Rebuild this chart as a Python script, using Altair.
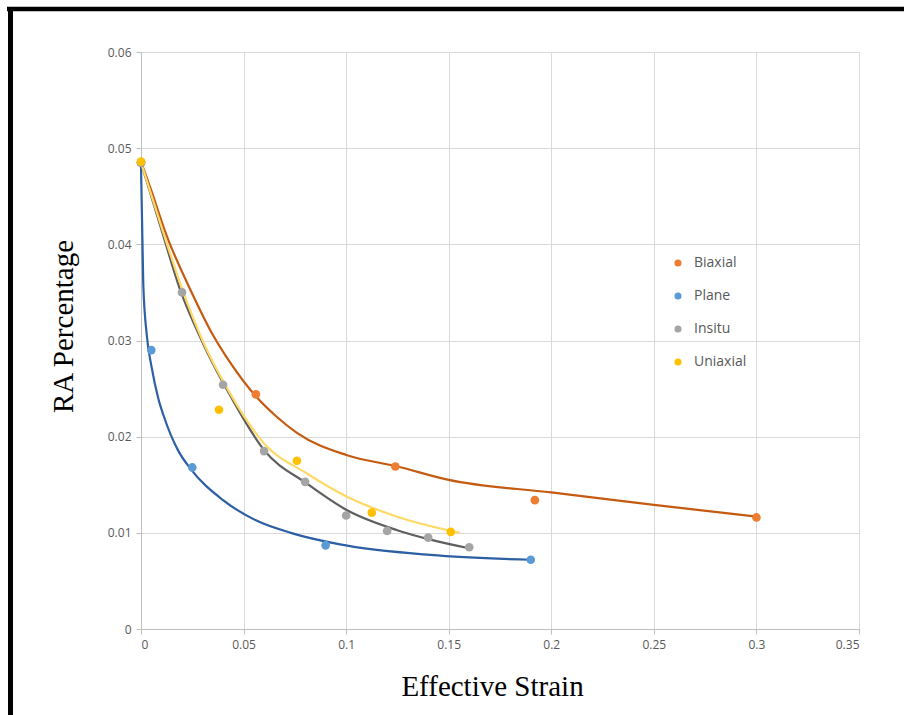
import altair as alt
import pandas as pd

# ---------------- data ----------------
series_names = ["Biaxial", "Plane", "Insitu", "Uniaxial"]
point_colors = ["#ED7D31", "#5B9BD5", "#A5A5A5", "#FFC000"]
line_colors = ["#C55A11", "#2C5FA3", "#5F5F5F", "#FFD966"]

# measured points
biaxial_x = [0.0, 0.056, 0.124, 0.192, 0.300]
biaxial_y = [0.0485, 0.0244, 0.0169, 0.0134, 0.0116]
plane_x = [0.0, 0.005, 0.025, 0.090, 0.190]
plane_y = [0.0485, 0.0290, 0.0168, 0.0087, 0.0072]
insitu_x = [0.0, 0.020, 0.040, 0.060, 0.080, 0.100, 0.120, 0.140, 0.160]
insitu_y = [0.0485, 0.0350, 0.0254, 0.0185, 0.0153, 0.0118, 0.0102, 0.0095, 0.0085]
uniaxial_x = [0.0, 0.038, 0.076, 0.1125, 0.151]
uniaxial_y = [0.0486, 0.0228, 0.0175, 0.0121, 0.0101]

# fitted trend curves
biaxial_fit_x = [0.0, 0.005, 0.012, 0.0247, 0.035, 0.0435, 0.056, 0.066, 0.076, 0.100, 0.125, 0.150, 0.200, 0.250, 0.300]
biaxial_fit_y = [0.0486, 0.0456, 0.0412, 0.0350, 0.0306, 0.0277, 0.0242, 0.0221, 0.0204, 0.0181, 0.0169, 0.0155, 0.0142, 0.0129, 0.0117]
plane_fit_x = [0.0, 0.0011, 0.0028, 0.0052, 0.0084, 0.011, 0.018, 0.024, 0.040, 0.056, 0.073, 0.097, 0.141, 0.190]
plane_fit_y = [0.0482, 0.0359, 0.0306, 0.0272, 0.0240, 0.0222, 0.0186, 0.0167, 0.0134, 0.0113, 0.0100, 0.0088, 0.0077, 0.0072]
insitu_fit_x = [0.0, 0.010, 0.0192, 0.030, 0.040, 0.0434, 0.060, 0.081, 0.100, 0.1245, 0.141, 0.160]
insitu_fit_y = [0.0485, 0.0415, 0.0352, 0.0298, 0.0256, 0.0243, 0.0186, 0.0151, 0.0124, 0.0103, 0.0093, 0.0084]
uniaxial_fit_x = [0.0, 0.010, 0.020, 0.030, 0.0434, 0.060, 0.0807, 0.100, 0.1245, 0.1554]
uniaxial_fit_y = [0.0485, 0.0418, 0.0354, 0.0300, 0.0245, 0.0193, 0.0162, 0.0138, 0.0117, 0.0100]

x_ticks = [0, 0.05, 0.1, 0.15, 0.2, 0.25, 0.3, 0.35]
y_ticks = [0, 0.01, 0.02, 0.03, 0.04, 0.05, 0.06]

# ---------------- tables ----------------
pts_x = [biaxial_x, plane_x, insitu_x, uniaxial_x]
pts_y = [biaxial_y, plane_y, insitu_y, uniaxial_y]
fit_x = [biaxial_fit_x, plane_fit_x, insitu_fit_x, uniaxial_fit_x]
fit_y = [biaxial_fit_y, plane_fit_y, insitu_fit_y, uniaxial_fit_y]

pts_rows, fit_rows = [], []
for i, name in enumerate(series_names):
    for xv, yv in zip(pts_x[i], pts_y[i]):
        pts_rows.append({"series": name, "order": i, "x": xv, "y": yv})
    for xv, yv in zip(fit_x[i], fit_y[i]):
        fit_rows.append({"series": name + " fit", "order": i, "x": xv, "y": yv})
pts = pd.DataFrame(pts_rows)
fits = pd.DataFrame(fit_rows)

W, H = 718, 577

x_scale = alt.Scale(domain=[0, 0.35], nice=False, zero=False)
y_scale = alt.Scale(domain=[0, 0.06], nice=False, zero=False)

x_axis = alt.Axis(
    values=x_ticks, format="~g", title="Effective Strain",
    titleX=351, titleY=57, titleAlign="center", titleBaseline="middle",
)
y_axis = alt.Axis(
    values=y_ticks, format="~g", title="RA Percentage",
    titleX=-78, titleY=274, titleAngle=270, titleAlign="center", titleBaseline="middle",
)

lines = alt.Chart(fits).mark_line(interpolate="monotone", strokeWidth=2.2).encode(
    x=alt.X("x:Q", scale=x_scale, axis=x_axis),
    y=alt.Y("y:Q", scale=y_scale, axis=y_axis),
    stroke=alt.Stroke(
        "series:N",
        scale=alt.Scale(domain=[s + " fit" for s in series_names], range=line_colors),
        legend=None,
    ),
    detail="series:N",
)

points = alt.Chart(pts).mark_circle(size=75, opacity=1).encode(
    x=alt.X("x:Q", scale=x_scale),
    y=alt.Y("y:Q", scale=y_scale),
    fill=alt.Fill(
        "series:N",
        scale=alt.Scale(domain=series_names, range=point_colors),
        legend=alt.Legend(
            title=None, orient="none", legendX=530, legendY=204,
            symbolType="circle", symbolSize=50, labelFontSize=14,
            labelColor="#595959", labelFont="Open Sans", rowPadding=19,
            labelOffset=9, padding=0,
        ),
    ),
    order="order:Q",
)

# decorative black frame (top and left edges), in pixels around the plot area
frame_top = alt.Chart(pd.DataFrame({"k": [0]})).mark_rule(
    color="black", strokeWidth=4.5, clip=False
).encode(x=alt.value(-134), x2=alt.value(765), y=alt.value(-43))
frame_left = alt.Chart(pd.DataFrame({"k": [0]})).mark_rule(
    color="black", strokeWidth=5, clip=False
).encode(x=alt.value(-130.5), y=alt.value(-45), y2=alt.value(665))

chart = alt.layer(lines, points, frame_top, frame_left).properties(
    width=W, height=H,
    autosize=alt.AutoSizeParams(type="none"),
    padding={"left": 141, "top": 52, "right": 45, "bottom": 86},
    background="white",
).configure_view(stroke="transparent").configure_axis(
    grid=True, gridColor="#D9D9D9", gridWidth=1,
    domainColor="#BFBFBF", domainWidth=1,
    tickColor="#BFBFBF", tickSize=5, tickWidth=1,
    labelColor="#595959", labelFont="Open Sans", labelFontSize=12,
    labelPadding=5,
    titleFont="Liberation Serif", titleFontSize=29, titleFontWeight="normal",
    titleColor="black",
)

chart.save("out.html", embed_options={"renderer": "svg", "actions": False})
